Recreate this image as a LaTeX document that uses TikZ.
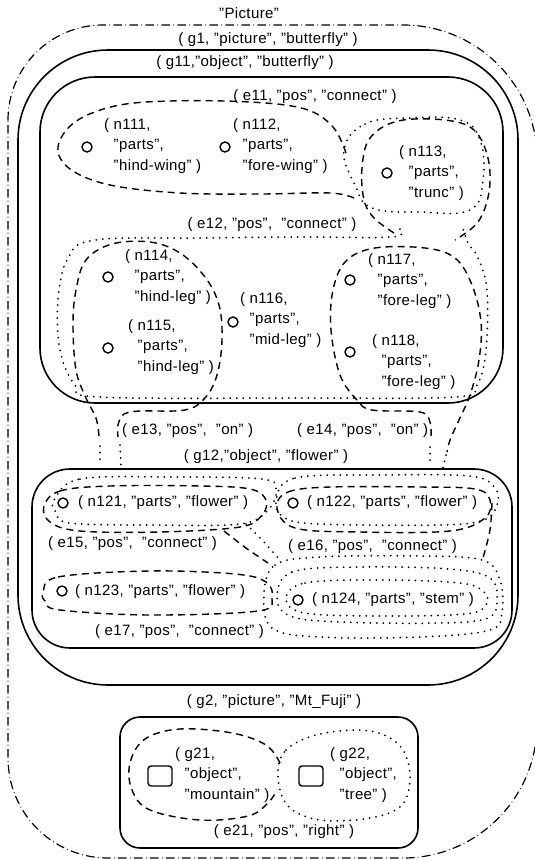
\documentclass[tikz,border=0pt]{standalone}
\usepackage{fontspec}
\setmainfont{Liberation Sans}[LetterSpace=2.5]
\usetikzlibrary{positioning}

\newcommand{\lpad}{\hphantom{(\ }}

\begin{document}
\begin{tikzpicture}[x=1pt,y=-1pt,
  every node/.style={font=\fontsize{15}{20.5}\selectfont},
  lbl/.style={align=left,inner sep=0pt,anchor=west},
  part/.style={circle,draw,line width=1.4pt,minimum size=10pt,inner sep=0pt},
  obj/.style={draw,rounded corners=3pt,line width=1.4pt,minimum width=24pt,
    minimum height=20pt,inner sep=0pt},
  grp/.style={line width=1.6pt},
  pic/.style={line width=1.2pt,line cap=round,dash pattern=on 8pt off 4pt on 0pt off 4pt},
  hedge/.style={line width=1.4pt,dash pattern=on 7pt off 5pt},
  dotreg/.style={line width=2pt,line cap=round,dash pattern=on 0pt off 6.5pt}
]
\useasboundingbox (0,0) rectangle (535,860);

\draw[pic] (8,120) .. controls (8,67.5) and (50.5,25) .. (103,25)
  -- (403,25) .. controls (477,25) and (537,85) .. (537,159)
  -- (537,724) .. controls (537,798) and (477,858) .. (403,858)
  -- (108,858) .. controls (52.8,858) and (8,813.2) .. (8,758) -- cycle;
\node (tpic) at (249,13) {"Picture"};

\draw[grp,rounded corners=90] (18,50) rectangle (518,685);
\node (tg1) at (268,40) {( g1, "picture", "butterfly" )};
\draw[grp,rounded corners=55] (40,77) rectangle (503,403);
\node (tg11) at (245,63) {( g11,"object", "butterfly" )};
\draw[grp,rounded corners=38] (32,469) rectangle (512,648);
\node (tg12) at (266,457) {( g12,"object", "flower" )};
\draw[grp,rounded corners=20] (120,717) rectangle (418,848);
\node (tg2) at (274,702) {( g2, "picture", "Mt\_Fuji" )};

\node[part] (n111) at (87,147) {};
\node[part] (n112) at (225,147) {};
\node[part] (n113) at (387,173) {};
\node[part] (n114) at (108,277) {};
\node[part] (n115) at (108,348) {};
\node[part] (n116) at (233,322) {};
\node[part] (n117) at (350,280) {};
\node[part] (n118) at (350,352) {};
\node[part] (n121) at (63,503) {};
\node[part] (n122) at (293,503) {};
\node[part] (n123) at (62,591) {};
\node[part] (n124) at (298,600) {};
\node[obj] (g21) at (160,776) {};
\node[obj] (g22) at (311,776) {};

\node[lbl] (t111) at (104,146) {( n111,\\\lpad"parts",\\\lpad"hind-wing" )};
\node[lbl] (t112) at (233,146) {( n112,\\\lpad"parts",\\\lpad"fore-wing" )};
\node[lbl] (t113) at (399,173) {( n113,\\\lpad"parts",\\\lpad"trunc" )};
\node[lbl] (t114) at (125,277) {( n114,\\\lpad"parts",\\\lpad"hind-leg" )};
\node[lbl] (t115) at (128,347) {( n115,\\\lpad"parts",\\\lpad"hind-leg" )};
\node[lbl] (t116) at (240,320) {( n116,\\\lpad"parts",\\\lpad"mid-leg" )};
\node[lbl] (t117) at (368,281) {( n117,\\\lpad"parts",\\\lpad"fore-leg" )};
\node[lbl] (t118) at (372,362) {( n118,\\\lpad"parts",\\\lpad"fore-leg" )};
\node[lbl] (t121) at (78,503) {( n121, "parts", "flower" )};
\node[lbl] (t122) at (307,503) {( n122, "parts", "flower" )};
\node[lbl] (t123) at (75,592) {( n123, "parts", "flower" )};
\node[lbl] (t124) at (312,600) {( n124, "parts", "stem" )};
\node[lbl] (t21) at (175,775) {( g21,\\\lpad"object",\\\lpad"mountain" )};
\node[lbl] (t22) at (330,775) {( g22,\\\lpad"object",\\\lpad"tree" )};

\node (e11) at (315,97) {( e11, "pos", "connect" )};
\node (e12) at (272,225) {( e12, "pos",\ \ "connect" )};
\node[lbl] (e13) at (122,431) {( e13, "pos",\ \ "on" )};
\node[lbl] (e14) at (297,431) {( e14, "pos",\ \ "on" )};
\node[lbl] (e15) at (48,544) {( e15, "pos",\ \ "connect" )};
\node[lbl] (e16) at (288,547) {( e16, "pos",\ \ "connect" )};
\node[lbl] (e17) at (95,632) {( e17, "pos",\ \ "connect" )};
\node (e21) at (284,832) {( e21, "pos", "right" )};

\draw[hedge] plot[smooth,tension=0.6] coordinates {(346,153) (333,127) (305,109)
  (250,102) (170,101) (115,106) (75,122) (58,147) (70,169) (110,185) (180,193)
  (260,194) (330,193) (354,198)};
\draw[hedge] plot[smooth,tension=0.6] coordinates {(394,233) (374,218) (364,200)
  (362,168) (370,138) (398,121) (445,120) (474,130) (488,158) (489,192) (478,222)
  (455,240)};
\draw[dotreg] plot[smooth cycle,tension=0.7] coordinates {(344,150) (365,124)
  (410,118) (460,120) (480,140) (483,180) (470,210) (420,212) (372,208) (355,185)};
\draw[dotreg] plot[smooth,tension=0.6] coordinates {(400,229) (392,237) (300,237)
  (200,238) (95,240) (68,258) (58,300) (60,350) (75,385) (100,397) (300,398)
  (455,397) (477,385) (486,350) (487,290) (478,258) (468,243) (463,228)};
\draw[hedge] plot[smooth,tension=0.6] coordinates {(99,436) (96,418) (86,398)
  (76,370) (73,325) (76,290) (86,260) (112,244) (150,242) (180,253) (205,277)
  (219,305) (222,340) (217,375) (205,398) (185,410) (140,411) (124,414) (118,425)
  (118,437)};
\draw[hedge] plot[smooth,tension=0.6] coordinates {(431,436) (430,422) (420,412)
  (372,410) (357,400) (340,375) (331,330) (333,290) (346,261) (375,248) (425,248)
  (455,258) (472,285) (481,322) (479,360) (470,395) (459,420) (450,440) (447,452)};
\draw[dotreg] (100,446) -- (100,462);
\draw[dotreg] (120,445) -- (121,470);
\draw[dotreg] (430,447) -- (430,462);
\draw[dotreg] (446,455) -- (442,472);

\draw[hedge] plot[smooth cycle,tension=0.6] coordinates {(44,506) (60,491)
  (110,486) (200,486) (250,489) (266,500) (262,515) (240,527) (160,532) (80,531)
  (50,522)};
\draw[dotreg] plot[smooth cycle,tension=0.6] coordinates {(54,500) (80,479)
  (170,477) (262,479) (276,490) (268,510) (240,524) (150,525) (70,523) (56,512)};
\draw[hedge] plot[smooth cycle,tension=0.6] coordinates {(277,508) (288,492)
  (330,487) (420,487) (475,489) (490,500) (485,518) (450,531) (360,532) (295,528)};
\draw[dotreg] plot[smooth cycle,tension=0.6] coordinates {(276,500) (295,478)
  (380,475) (470,476) (495,488) (497,505) (484,520) (440,525) (320,524) (285,518)};
\draw[hedge] plot[smooth] coordinates {(224,531) (246,548) (268,563)};
\draw[dotreg] plot[smooth] coordinates {(246,524) (262,540) (280,560)};
\draw[hedge] plot[smooth] coordinates {(492,503) (490,530) (483,558)};
\draw[hedge] plot[smooth cycle,tension=0.6] coordinates {(43,593) (58,577)
  (150,571) (235,574) (266,582) (272,598) (258,611) (150,615) (60,610) (46,602)};
\draw[dotreg] plot[smooth cycle,tension=0.6] coordinates {(264,595) (275,565)
  (320,557) (420,556) (482,560) (500,580) (502,612) (490,630) (420,637) (320,637)
  (272,628)};
\draw[dotreg] plot[smooth cycle,tension=0.6] coordinates {(277,597) (292,572)
  (360,567) (450,569) (490,578) (497,600) (488,618) (440,623) (340,622) (290,616)};
\draw[dotreg] plot[smooth cycle,tension=0.6] coordinates {(286,599) (305,583)
  (380,580) (460,583) (484,592) (486,605) (465,614) (380,616) (305,613)};

\draw[hedge] plot[smooth,tension=0.6] coordinates {(280,763) (266,745) (232,733)
  (180,729) (145,739) (130,763) (132,790) (150,810) (200,820) (248,816) (268,803)
  (277,790)};
\draw[dotreg] plot[smooth cycle,tension=0.6] coordinates {(278,776) (286,750)
  (320,734) (370,731) (400,746) (410,775) (402,805) (370,818) (320,820) (288,806)};
\end{tikzpicture}
\end{document}
